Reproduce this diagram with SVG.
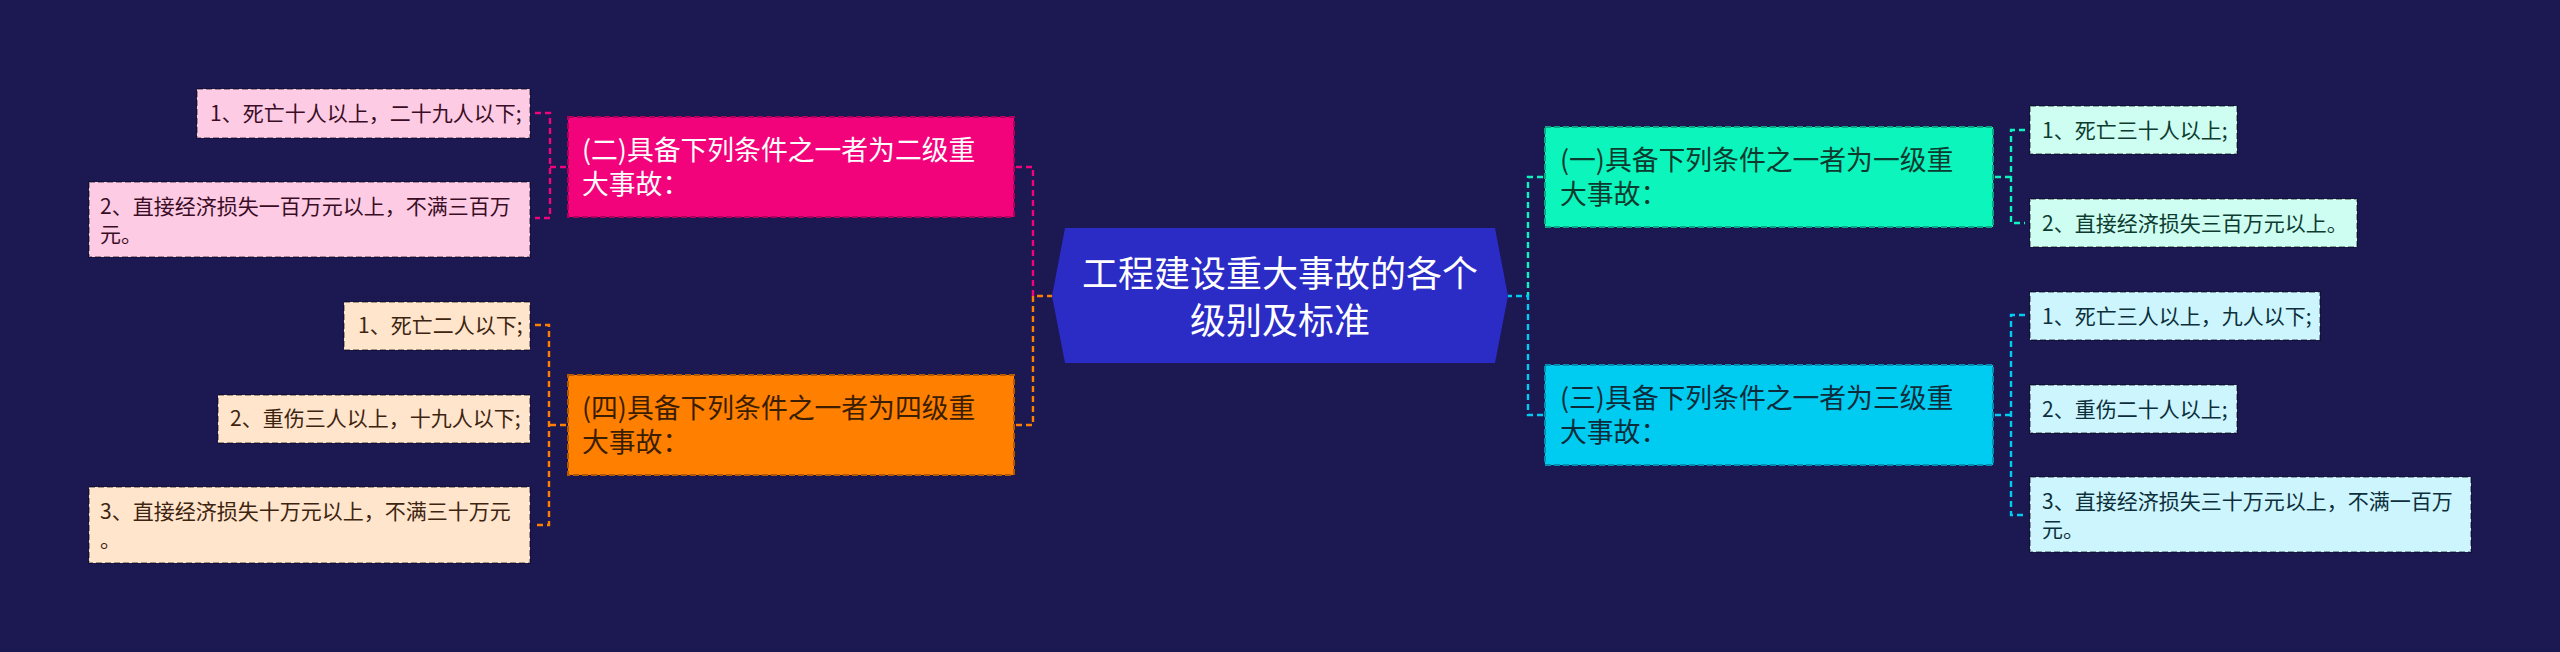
<svg xmlns="http://www.w3.org/2000/svg" width="2560" height="652" viewBox="0 0 2560 652">
<style>
text{font-family:"Noto Sans CJK SC","Microsoft YaHei",sans-serif;}
.c{fill:none;stroke-width:2.4;stroke-dasharray:6 4;}
.pk{stroke:#f3037b}.or{stroke:#ff7f00}.aq{stroke:#0cf5bd}.cy{stroke:#00ccf2}
.nb{stroke-width:2;stroke-dasharray:6 3;}
.lb{stroke-width:2;stroke-dasharray:6 3;stroke:#000;stroke-opacity:0.35;}
.mt{font-size:26.8px;}
.lt{font-size:21px;}
</style>
<rect width="2560" height="652" fill="#1b1852"/>
<g id="connectors">
<path class="c pk" d="M1016 167 H1033 V296"/>
<path class="c or" d="M1016 425 H1033 V296 H1052"/>
<path class="c aq" d="M1543 177 H1528 V296"/>
<path class="c cy" d="M1543 415 H1528 V296 H1508"/>
<path class="c pk" d="M566 167 H550 M535 113 H550 V218 H535"/>
<path class="c or" d="M566 425 H549 M535 325 H549 V525 H535"/>
<path class="c aq" d="M1995 177 H2011 M2025 130 H2011 V223 H2025"/>
<path class="c cy" d="M1995 415 H2011 M2025 315 H2011 V515 H2025"/>
</g>
<g id="center">
<polygon points="1052,296 1065,228 1495,228 1508,296 1495,363 1065,363" fill="#2b2bc6"/>
<text x="1280" y="287" font-size="36" fill="#ffffff" text-anchor="middle">工程建设重大事故的各个</text>
<text x="1280" y="334" font-size="36" fill="#ffffff" text-anchor="middle">级别及标准</text>
</g>
<g id="n2">
<rect x="568" y="117" width="446" height="100" fill="#f3037b" class="nb" stroke="#b0005a"/>
<text class="mt" x="582" y="160" fill="#ffffff">(二)具备下列条件之一者为二级重</text>
<text class="mt" x="582" y="194" fill="#ffffff">大事故：</text>
</g>
<g id="n2a">
<rect x="197" y="89" width="333" height="49" fill="#fdcce4" class="lb"/>
<text class="lt" x="210" y="121" fill="#3a0c25">1、死亡十人以上，二十九人以下;</text>
</g>
<g id="n2b">
<rect x="89" y="182" width="441" height="75" fill="#fdcce4" class="lb"/>
<text class="lt" x="100" y="214" fill="#3a0c25">2、直接经济损失一百万元以上，不满三百万</text>
<text class="lt" x="100" y="242" fill="#3a0c25">元。</text>
</g>
<g id="n4">
<rect x="568" y="375" width="446" height="100" fill="#ff7f00" class="nb" stroke="#b35900"/>
<text class="mt" x="582" y="418" fill="#3b1d00">(四)具备下列条件之一者为四级重</text>
<text class="mt" x="582" y="452" fill="#3b1d00">大事故：</text>
</g>
<g id="n4a">
<rect x="344" y="302" width="186" height="48" fill="#ffe5cc" class="lb"/>
<text class="lt" x="358" y="333" fill="#3d2410">1、死亡二人以下;</text>
</g>
<g id="n4b">
<rect x="218" y="395" width="312" height="48" fill="#ffe5cc" class="lb"/>
<text class="lt" x="230" y="426" fill="#3d2410">2、重伤三人以上，十九人以下;</text>
</g>
<g id="n4c">
<rect x="89" y="487" width="441" height="76" fill="#ffe5cc" class="lb"/>
<text class="lt" x="100" y="519" fill="#3d2410">3、直接经济损失十万元以上，不满三十万元</text>
<text class="lt" x="100" y="547" fill="#3d2410">。</text>
</g>
<g id="n1">
<rect x="1545" y="127" width="448" height="100" fill="#0cf5bd" class="nb" stroke="#08a884"/>
<text class="mt" x="1560" y="170" fill="#0b3a2e">(一)具备下列条件之一者为一级重</text>
<text class="mt" x="1560" y="204" fill="#0b3a2e">大事故：</text>
</g>
<g id="n1a">
<rect x="2030" y="106" width="207" height="48" fill="#cefdf1" class="lb"/>
<text class="lt" x="2042" y="138" fill="#0d3b30">1、死亡三十人以上;</text>
</g>
<g id="n1b">
<rect x="2030" y="199" width="327" height="48" fill="#cefdf1" class="lb"/>
<text class="lt" x="2042" y="231" fill="#0d3b30">2、直接经济损失三百万元以上。</text>
</g>
<g id="n3">
<rect x="1545" y="365" width="448" height="100" fill="#00ccf2" class="nb" stroke="#008fb0"/>
<text class="mt" x="1560" y="408" fill="#0b2c3a">(三)具备下列条件之一者为三级重</text>
<text class="mt" x="1560" y="442" fill="#0b2c3a">大事故：</text>
</g>
<g id="n3a">
<rect x="2030" y="292" width="290" height="48" fill="#ccf5fd" class="lb"/>
<text class="lt" x="2042" y="324" fill="#0d2f3b">1、死亡三人以上，九人以下;</text>
</g>
<g id="n3b">
<rect x="2030" y="385" width="207" height="48" fill="#ccf5fd" class="lb"/>
<text class="lt" x="2042" y="417" fill="#0d2f3b">2、重伤二十人以上;</text>
</g>
<g id="n3c">
<rect x="2030" y="477" width="441" height="75" fill="#ccf5fd" class="lb"/>
<text class="lt" x="2042" y="509" fill="#0d2f3b">3、直接经济损失三十万元以上，不满一百万</text>
<text class="lt" x="2042" y="537" fill="#0d2f3b">元。</text>
</g>
</svg>
